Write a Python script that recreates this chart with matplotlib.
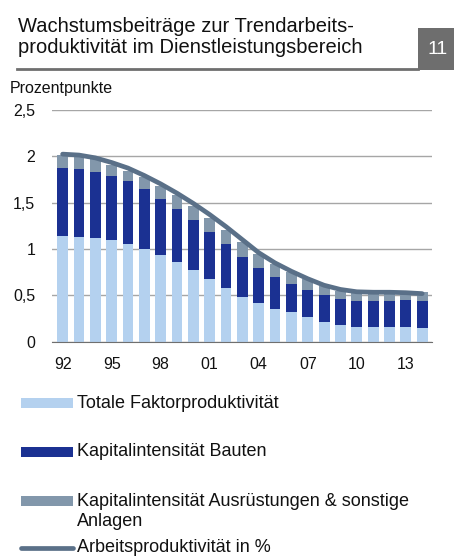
import numpy as np
import matplotlib
matplotlib.use('Agg')
import matplotlib.pyplot as plt
from matplotlib.patches import Rectangle
from matplotlib.lines import Line2D

plt.rcParams['font.family'] = ['Liberation Sans', 'DejaVu Sans']

# Daten
jahre = list(range(1992, 2015))
tfp = [1.14, 1.13, 1.115, 1.094, 1.054, 1.0, 0.935, 0.86, 0.77, 0.68, 0.577, 0.487,
       0.416, 0.355, 0.32, 0.265, 0.22, 0.18, 0.158, 0.165, 0.165, 0.165, 0.154]
bauten = [0.727, 0.73, 0.715, 0.696, 0.681, 0.65, 0.605, 0.57, 0.545, 0.50, 0.473, 0.43,
          0.384, 0.345, 0.307, 0.295, 0.28, 0.28, 0.279, 0.272, 0.279, 0.282, 0.283]
ausruestungen = [0.143, 0.14, 0.14, 0.11, 0.105, 0.12, 0.14, 0.15, 0.145, 0.15, 0.15, 0.163,
                 0.146, 0.14, 0.123, 0.12, 0.105, 0.09, 0.093, 0.098, 0.096, 0.098, 0.103]
arbeitsprod = [2.02, 2.01, 1.98, 1.93, 1.87, 1.79, 1.70, 1.60, 1.49, 1.37, 1.24, 1.10,
               0.96, 0.85, 0.76, 0.68, 0.61, 0.565, 0.54, 0.535, 0.535, 0.53, 0.52]
labels = ['Totale Faktorproduktivität', 'Kapitalintensität Bauten',
          'Kapitalintensität Ausrüstungen & sonstige\nAnlagen', 'Arbeitsproduktivität in %']
titel = ['Wachstumsbeiträge zur Trendarbeits-', 'produktivität im Dienstleistungsbereich']
yticks = [0, 0.5, 1, 1.5, 2, 2.5]
ytick_labels = ['0', '0,5', '1', '1,5', '2', '2,5']

c_tfp = '#b4d1ef'
c_bau = '#1b3192'
c_aus = '#8297ab'
c_line = '#5a7088'

fig = plt.figure(figsize=(4.54, 5.57), dpi=100)
ax = fig.add_axes([0.1145, 0.386, 0.837, 0.4174])

x = np.arange(len(jahre))
b1 = np.array(tfp)
b2 = np.array(bauten)
ax.bar(x, tfp, width=0.66, color=c_tfp, zorder=2)
ax.bar(x, bauten, width=0.66, bottom=b1, color=c_bau, zorder=2)
ax.bar(x, ausruestungen, width=0.66, bottom=b1 + b2, color=c_aus, zorder=2)
ax.plot(x, arbeitsprod, color=c_line, lw=3.4, solid_capstyle='round', zorder=3)

ax.set_xlim(-0.65, len(jahre) - 0.4)
ax.set_ylim(0, 2.5)
ax.set_yticks(yticks)
ax.set_yticklabels(ytick_labels)
ax.yaxis.grid(True, color='#a6a6a6', lw=1)
ax.set_axisbelow(True)
tick_idx = x[::3]
ax.set_xticks(tick_idx)
ax.set_xticklabels(['%02d' % (jahre[i] % 100) for i in tick_idx])
for s in ['top', 'right', 'left']:
    ax.spines[s].set_visible(False)
ax.spines['bottom'].set_color('#6f6f6f')
ax.tick_params(axis='both', length=0, labelsize=11.5, colors='#111111')
ax.tick_params(axis='y', pad=12)
ax.tick_params(axis='x', pad=11)

# Titel
fig.text(18 / 454, 1 - 32 / 557, titel[0], fontsize=14.5, va='baseline', ha='left', color='#111111')
fig.text(18 / 454, 1 - 53 / 557, titel[1], fontsize=14.5, va='baseline', ha='left', color='#111111')
fig.add_artist(Line2D([17 / 454, 418 / 454], [1 - 69 / 557] * 2, color='#6f6f6f', lw=2))
fig.add_artist(Rectangle((418 / 454, 1 - 70 / 557), 36 / 454, 42 / 557, color='#6e6e6e', lw=0))
fig.text(438 / 454, 1 - 49 / 557, '11', color='white', fontsize=14, ha='center', va='center')
fig.text(10 / 454, 1 - 88 / 557, 'Prozentpunkte', fontsize=11.5, va='center', ha='left', color='#111111')

# Legende
ys = [403, 452, 501, 548]
cols = [c_tfp, c_bau, c_aus]
for i in range(3):
    fig.add_artist(Rectangle((21 / 454, 1 - (ys[i] + 5) / 557), 52 / 454, 10 / 557, color=cols[i], lw=0))
fig.add_artist(Line2D([21 / 454, 73 / 454], [1 - ys[3] / 557] * 2, color=c_line, lw=3.4,
                      solid_capstyle='round'))
for i, lab in enumerate(labels):
    teile = lab.split('\n')
    for k, t in enumerate(teile):
        fig.text(77 / 454, 1 - (ys[i] + 21 * k) / 557, t, fontsize=13, va='center', color='#111111')

fig.savefig('out.png', dpi=100)
